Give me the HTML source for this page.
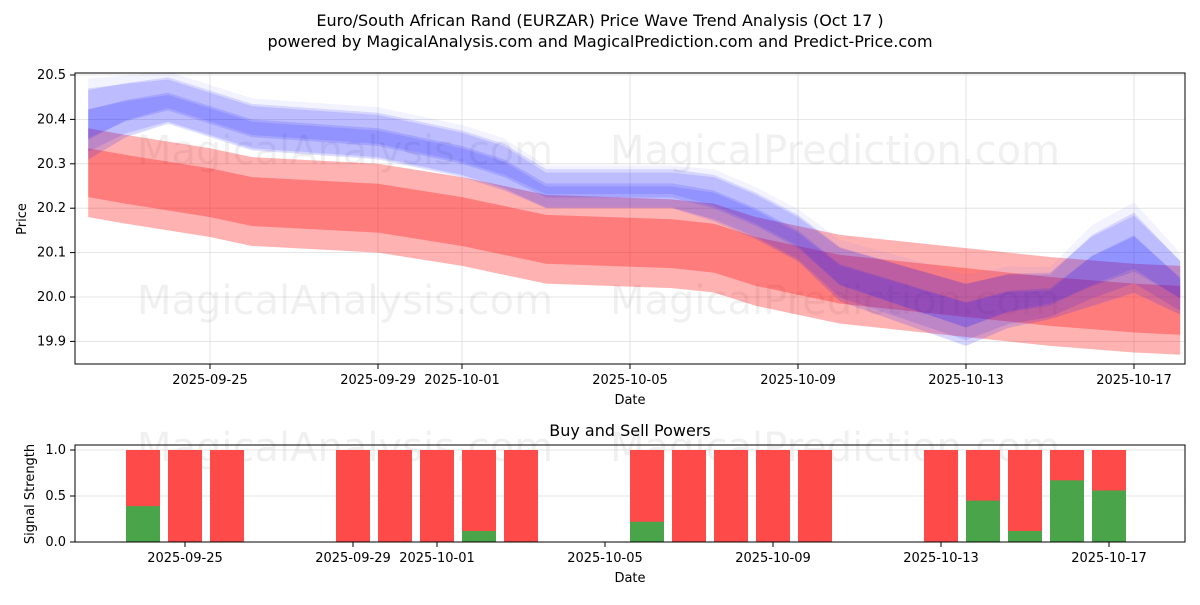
<!DOCTYPE html>
<html><head><meta charset="utf-8"><style>
body{margin:0;background:#fff;font-family:"Liberation Sans","DejaVu Sans",sans-serif}
svg text{font-family:"DejaVu Sans","Liberation Sans",sans-serif}
</style></head><body>
<svg id="c" width="1200" height="600" xmlns="http://www.w3.org/2000/svg"></svg>
<script>
const redDays=[1.1,2,4,5,8,10,12,15,16,17,18,19,22,24,26,27.1];
const redCenter=[20.28,20.265,20.235,20.215,20.2,20.17,20.13,20.12,20.11,20.08,20.06,20.04,20.01,19.99,19.975,19.97];
const blueDays=[1.1,2,3,5,8,10,11,12,15,16,17,18,19,22,23,24,25,26,27.1];
const blueCenter=[20.39,20.42,20.44,20.38,20.36,20.32,20.29,20.24,20.24,20.22,20.18,20.13,20.05,19.96,19.99,20.0,20.06,20.1,20.02];
const blueWidth=[0.08,0.06,0.05,0.05,0.05,0.05,0.05,0.04,0.04,0.05,0.05,0.05,0.06,0.07,0.06,0.05,0.08,0.09,0.06];
const yTicks=[19.9,20.0,20.1,20.2,20.3,20.4,20.5];
const xTickDays=[4,8,10,14,18,22,26];
const xTickLabels=["2025-09-25","2025-09-29","2025-10-01","2025-10-05","2025-10-09","2025-10-13","2025-10-17"];
const barDays=[3,4,5,8,9,10,11,12,15,16,17,18,19,22,23,24,25,26];
const buyVals=[0.39,0,0,0,0,0,0.12,0,0.22,0,0,0,0,0,0.45,0.12,0.67,0.56];
const sTicks=[0,0.5,1.0];

const S=document.getElementById('c');const NS='http://www.w3.org/2000/svg';
function el(t,a,p){const e=document.createElementNS(NS,t);for(const k in a)e.setAttribute(k,a[k]);(p||S).appendChild(e);return e;}
const xT=d=>42+d*42; // day 0 = 2025-09-21
const yT=v=>297-(v-20.0)*444;
const xB=d=>17+d*42;
const yB=v=>542-v*92;

const defs=el('defs',{});
const cp=el('clipPath',{id:'pc'},defs);el('rect',{x:75,y:73,width:1110,height:291},cp);

let t=el('text',{x:600,y:26,'text-anchor':'middle','font-size':16,fill:'#000'});t.textContent='Euro/South African Rand (EURZAR) Price Wave Trend Analysis (Oct 17 )';

t=el('text',{x:600,y:47,'text-anchor':'middle','font-size':16,fill:'#000'});t.textContent='powered by MagicalAnalysis.com and MagicalPrediction.com and Predict-Price.com';


yTicks.forEach(v=>{const y=yT(v);
 el('line',{x1:75,x2:1185,y1:y,y2:y,stroke:'#ddd','stroke-width':0.8});
 el('line',{x1:70,x2:75,y1:y,y2:y,stroke:'#000'});
 const l=el('text',{x:66,y:y+4,'text-anchor':'end','font-size':13});l.textContent=v.toFixed(1);
 });
xTickDays.forEach((d,i)=>{const x=xT(d);
 el('line',{x1:x,x2:x,y1:73,y2:364,stroke:'#ddd','stroke-width':0.8});
 el('line',{x1:x,x2:x,y1:364,y2:369,stroke:'#000'});
 const l=el('text',{x:x,y:384,'text-anchor':'middle','font-size':13});l.textContent=xTickLabels[i];
 });

[[345,150,'MagicalAnalysis.com'],[835,150,'MagicalPrediction.com'],[345,300,'MagicalAnalysis.com'],[835,300,'MagicalPrediction.com'],[345,447,'MagicalAnalysis.com'],[835,447,'MagicalPrediction.com']].forEach(w=>{
 const e=el('text',{x:w[0],y:w[1]+14,'text-anchor':'middle','font-size':40,fill:'#000','fill-opacity':0.06});e.textContent=w[2];
 });

const G=el('g',{'clip-path':'url(#pc)'});
function band(days,center,w,off,color,op,name){
 const top=days.map((d,i)=>xT(d)+','+yT(center[i]+off+(Array.isArray(w)?w[i]:w)));
 const bot=days.map((d,i)=>xT(d)+','+yT(center[i]+off-(Array.isArray(w)?w[i]:w))).reverse();
 const p=el('polygon',{points:top.concat(bot).join(' '),fill:color,'fill-opacity':op},G);
 }
band(redDays,redCenter,0.1,0,'#ff0000',0.3,'red-outer-band');
band(redDays,redCenter,0.055,0.0,'#ff0000',0.3,'red-inner-band');
band(blueDays,blueCenter,blueWidth,0.0,'#0000ff',0.12,'blue-band');
band(blueDays,blueCenter,blueWidth.map(v=>v*0.7),0.02,'#0000ff',0.12,'blue-band');
band(blueDays,blueCenter,blueWidth.map(v=>v*0.6),-0.015,'#0000ff',0.12,'blue-band');
band(blueDays,blueCenter,blueWidth.map(v=>v*0.4),0.0,'#2020ff',0.15,'blue-core-band');
band(blueDays,blueCenter,blueWidth.map(v=>v*1.15),0.01,'#6060ff',0.08,'blue-band');

el('rect',{x:75,y:73,width:1110,height:291,fill:'none',stroke:'#000','stroke-width':1});
t=el('text',{x:630,y:404,'text-anchor':'middle','font-size':13});t.textContent='Date';
t=el('text',{x:26,y:219,'text-anchor':'middle','font-size':13,transform:'rotate(-90 26 219)'});t.textContent='Price';

t=el('text',{x:630,y:436,'text-anchor':'middle','font-size':16});t.textContent='Buy and Sell Powers';
sTicks.forEach(v=>{const y=yB(v);
 el('line',{x1:75,x2:1185,y1:y,y2:y,stroke:'#ddd','stroke-width':0.8});
 el('line',{x1:70,x2:75,y1:y,y2:y,stroke:'#000'});
 const l=el('text',{x:66,y:y+4,'text-anchor':'end','font-size':13});l.textContent=v.toFixed(1);
 });
barDays.forEach((d,i)=>{const x=xB(d)-17;
 const r=el('rect',{x:x,y:yB(1),width:34,height:yB(0)-yB(1),fill:'#ff4a4a'});
 
 const g=el('rect',{x:x,y:yB(buyVals[i]),width:34,height:yB(0)-yB(buyVals[i]),fill:'#4aa54a'});
 });
xTickDays.forEach((d,i)=>{const x=xB(d);
 el('line',{x1:x,x2:x,y1:542,y2:547,stroke:'#000'});
 const l=el('text',{x:x,y:562,'text-anchor':'middle','font-size':13});l.textContent=xTickLabels[i];
 });
el('rect',{x:75,y:445,width:1110,height:97,fill:'none',stroke:'#000','stroke-width':1});
t=el('text',{x:630,y:582,'text-anchor':'middle','font-size':13});t.textContent='Date';
t=el('text',{x:34,y:494,'text-anchor':'middle','font-size':13,transform:'rotate(-90 34 494)'});t.textContent='Signal Strength';
</script>
</body></html>
